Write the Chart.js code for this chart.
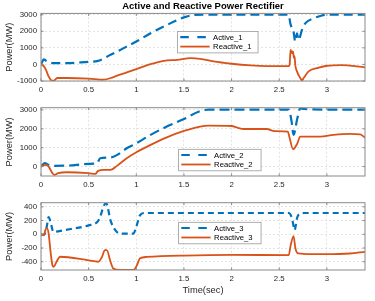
<!DOCTYPE html>
<html>
<head>
<meta charset="utf-8">
<title>Active and Reactive Power Rectifier</title>
<script src="https://cdn.jsdelivr.net/npm/chart.js@4.4.1/dist/chart.umd.min.js"></script>
<style>
  html, body { margin: 0; padding: 0; background: #fff; }
  canvas { position: absolute; left: 0; }
</style>
</head>
<body>
<canvas id="panel1" width="375" height="95" style="top:0"></canvas>
<canvas id="panel2" width="375" height="95" style="top:95px"></canvas>
<canvas id="panel3" width="375" height="111" style="top:190px"></canvas>
<script>
// time (sec) and power (MW), one pair per curve
const active1T = [0, 0.03, 0.06, 0.13, 0.27, 0.5, 0.59, 0.73, 0.9, 1.0, 1.15, 1.32, 1.5, 1.6, 1.7, 2.0, 2.3, 2.6, 2.616, 2.633, 2.65, 2.668, 2.686, 2.703, 2.738, 2.773, 2.86, 2.93, 3.0, 3.2, 3.4];
const active1 = [0, 300, 200, 80, 80, 160, 200, 580, 1080, 1380, 1880, 2380, 2840, 2980, 3000, 3000, 3000, 3000, 2480, 2180, 1980, 1380, 1880, 1480, 2080, 2480, 2780, 2920, 3000, 3000, 3000];
const reactive1T = [0, 0.02, 0.05, 0.08, 0.115, 0.135, 0.17, 0.27, 0.5, 0.66, 0.76, 0.9, 1.0, 1.15, 1.29, 1.43, 1.57, 1.67, 1.81, 2.0, 2.2, 2.37, 2.6, 2.609, 2.619, 2.634, 2.644, 2.655, 2.661, 2.668, 2.686, 2.721, 2.739, 2.756, 2.808, 2.896, 3.0, 3.15, 3.4];
const reactive1 = [0, -50, -300, -720, -980, -980, -820, -820, -860, -920, -760, -480, -280, 20, 220, 280, 380, 340, 180, 40, -60, -100, -100, -20, 880, 680, 780, 380, 480, -20, -420, -820, -960, -820, -420, -220, -80, -40, -180];

const active2T = [0, 0.04, 0.08, 0.13, 0.27, 0.5, 0.59, 0.62, 0.73, 0.8, 0.9, 1.0, 1.15, 1.32, 1.5, 1.67, 1.76, 2.0, 2.3, 2.6, 2.63, 2.65, 2.69, 2.72, 2.76, 3.0, 3.4];
const active2 = [0, 180, 90, 40, 50, 140, 180, 440, 480, 620, 970, 1230, 1680, 2120, 2520, 2940, 3020, 3020, 3020, 3020, 2380, 1680, 2560, 3090, 3050, 3020, 3020];
const reactive2T = [0, 0.05, 0.08, 0.12, 0.14, 0.18, 0.27, 0.5, 0.57, 0.6, 0.66, 0.73, 0.8, 0.9, 1.0, 1.15, 1.32, 1.5, 1.67, 1.76, 2.0, 2.06, 2.13, 2.37, 2.45, 2.59, 2.61, 2.645, 2.69, 2.72, 2.83, 2.93, 3.07, 3.24, 3.35, 3.4];
const reactive2 = [0, 90, 0, -350, -440, -350, -300, -350, -390, -230, -180, -180, 50, 440, 760, 1150, 1550, 1890, 2120, 2170, 2150, 2060, 1990, 1990, 1880, 1850, 1500, 920, 1230, 1590, 1590, 1590, 1680, 1730, 1710, 1530];

const active3T = [0, 0.03, 0.06, 0.08, 0.1, 0.13, 0.24, 0.5, 0.59, 0.62, 0.66, 0.685, 0.73, 0.78, 0.83, 0.97, 1.0, 1.04, 1.08, 1.5, 2.0, 2.6, 2.634, 2.65, 2.66, 2.69, 2.72, 2.76, 3.0, 3.4];
const active3 = [0, -10, 110, 250, 180, 35, 60, 130, 180, 250, 420, 450, 200, 60, 10, 10, 110, 280, 310, 310, 310, 310, 230, 120, 60, 250, 300, 310, 310, 310];
const reactive3T = [0, 0.03, 0.045, 0.063, 0.08, 0.1, 0.12, 0.133, 0.17, 0.2, 0.5, 0.6, 0.64, 0.67, 0.69, 0.73, 0.76, 0.83, 0.97, 1.0, 1.04, 1.11, 1.5, 2.0, 2.6, 2.62, 2.65, 2.67, 2.7, 2.83, 3.0, 3.24, 3.4];
const reactive3 = [0, -15, 60, 85, 10, -250, -450, -473, -380, -327, -380, -400, -330, -230, -230, -400, -500, -520, -520, -470, -350, -330, -310, -300, -303, -160, -27, -206, -279, -290, -290, -280, -255];

const timeTicks = [0, 0.5, 1, 1.5, 2, 2.5, 3];
const powerTicks1 = [-1000, 0, 1000, 2000, 3000];
const powerTicks2 = [0, 1000, 2000, 3000];
const powerTicks3 = [-400, -200, 0, 200, 400];

const BLUE = "#0072BD";
const ORANGE = "#D95319";
const FONT = "'Liberation Sans', Arial, sans-serif";
Chart.defaults.font.family = FONT;

const pts = (t, v) => t.map((x, i) => ({ x: x, y: v[i] }));

// axes box with small inward tick marks, like matlab
const framePlugin = {
  id: "frame",
  afterDatasetsDraw(chart) {
    const { ctx, chartArea: a, scales } = chart;
    ctx.save();
    ctx.strokeStyle = "#8a8a8a";
    ctx.lineWidth = 1;
    ctx.strokeRect(a.left, a.top, a.right - a.left, a.bottom - a.top);
    ctx.beginPath();
    scales.x.ticks.forEach((t) => {
      const px = scales.x.getPixelForValue(t.value);
      ctx.moveTo(px, a.bottom); ctx.lineTo(px, a.bottom - 2.5);
      ctx.moveTo(px, a.top); ctx.lineTo(px, a.top + 2.5);
    });
    scales.y.ticks.forEach((t) => {
      const py = scales.y.getPixelForValue(t.value);
      ctx.moveTo(a.left, py); ctx.lineTo(a.left + 2.5, py);
      ctx.moveTo(a.right, py); ctx.lineTo(a.right - 2.5, py);
    });
    ctx.stroke();
    ctx.restore();
  },
};

// legend box inside the plot area
const boxLegendPlugin = {
  id: "boxLegend",
  afterDraw(chart, args, opts) {
    const { ctx, chartArea: a } = chart;
    const x = a.left + opts.left;
    const y = a.top + opts.top;
    ctx.save();
    ctx.font = "7.7px " + FONT;
    const tw = Math.max(...chart.data.datasets.map((d) => ctx.measureText(d.label).width));
    const w = 36 + tw + opts.padRight;
    const h = 21.5;
    ctx.fillStyle = "#fff";
    ctx.fillRect(x, y, w, h);
    ctx.strokeStyle = "#9a9a9a";
    ctx.lineWidth = 0.8;
    ctx.strokeRect(x, y, w, h);
    chart.data.datasets.forEach((d, i) => {
      const ly = y + 5.7 + i * 9.5;
      ctx.beginPath();
      ctx.strokeStyle = d.borderColor;
      ctx.lineWidth = d.borderWidth;
      ctx.setLineDash(d.borderDash ? [8.5, 8.5] : []);
      ctx.moveTo(x + 2.7, ly);
      ctx.lineTo(x + 32, ly);
      ctx.stroke();
      ctx.setLineDash([]);
      ctx.fillStyle = "#000";
      ctx.textBaseline = "middle";
      ctx.fillText(d.label, x + 35.5, ly + 0.5);
    });
    ctx.restore();
  },
};

function makePanel(id, active, reactive, cfg) {
  return new Chart(document.getElementById(id), {
    type: "line",
    data: {
      datasets: [
        {
          label: cfg.labels[0],
          data: active,
          borderColor: BLUE,
          borderWidth: 2.2,
          borderDash: cfg.dash,
          pointRadius: 0,
          cubicInterpolationMode: "monotone",
          order: 1,
        },
        {
          label: cfg.labels[1],
          data: reactive,
          borderColor: ORANGE,
          borderWidth: 1.8,
          pointRadius: 0,
          cubicInterpolationMode: "monotone",
          order: 0,
        },
      ],
    },
    options: {
      responsive: false,
      animation: false,
      events: [],
      layout: { padding: { top: cfg.padTop, right: 10, left: 0, bottom: 0 } },
      plugins: {
        legend: { display: false },
        tooltip: { enabled: false },
        title: cfg.title || { display: false },
        boxLegend: cfg.legend,
      },
      scales: {
        x: {
          type: "linear",
          min: 0,
          max: 3.4,
          afterBuildTicks: (s) => { s.ticks = timeTicks.map((v) => ({ value: v })); },
          afterFit: (s) => { s.height = cfg.xHeight; },
          ticks: { color: "#262626", font: { size: 7.8 }, padding: 4.5, maxRotation: 0, callback: (v) => String(v) },
          grid: { color: "#dcdcdc", lineWidth: 0.8, drawTicks: false },
          border: { display: false, dash: [2, 2] },
          title: cfg.xTitle || { display: false },
        },
        y: {
          min: cfg.yMin,
          max: cfg.yMax,
          afterBuildTicks: (s) => { s.ticks = cfg.yTicks.map((v) => ({ value: v })); },
          afterFit: (s) => { s.width = 41; },
          ticks: { color: "#262626", font: { size: 7.8 }, padding: 4, callback: (v) => String(v) },
          grid: { color: "#dcdcdc", lineWidth: 0.8, drawTicks: false },
          border: { display: false, dash: [2, 2] },
          title: {
            display: true,
            text: "Power(MW)",
            color: "#262626",
            font: { size: 9.3 },
            padding: { top: 4, bottom: 0 },
          },
        },
      },
    },
    plugins: [framePlugin, boxLegendPlugin],
  });
}

makePanel("panel1", pts(active1T, active1), pts(reactive1T, reactive1), {
  labels: ["Active_1", "Reactive_1"],
  dash: [9, 5],
  yMin: -1000,
  yMax: 3080,
  yTicks: powerTicks1,
  padTop: 0,
  xHeight: 14,
  title: {
    display: true,
    text: "Active and Reactive Power Rectifier",
    color: "#000",
    fullSize: false,
    font: { size: 9.5, weight: "bold" },
    padding: { top: 1, bottom: 1 },
  },
  legend: { left: 136.6, top: 18, padRight: 6 },
});

makePanel("panel2", pts(active2T, active2), pts(reactive2T, reactive2), {
  labels: ["Active_2", "Reactive_2"],
  dash: [10, 5],
  yMin: -500,
  yMax: 3120,
  yTicks: powerTicks2,
  padTop: 12.7,
  xHeight: 14,
  legend: { left: 137.6, top: 41.6, padRight: 8 },
});

makePanel("panel3", pts(active3T, active3), pts(reactive3T, reactive3), {
  labels: ["Active_3", "Reactive_3"],
  dash: [6, 4],
  yMin: -520,
  yMax: 460,
  yTicks: powerTicks3,
  padTop: 12.7,
  xHeight: 31,
  xTitle: {
    display: true,
    text: "Time(sec)",
    color: "#262626",
    font: { size: 9.3 },
    padding: { top: 0, bottom: 5.4 },
  },
  legend: { left: 137.6, top: 19.6, padRight: 8 },
});
</script>
</body>
</html>
